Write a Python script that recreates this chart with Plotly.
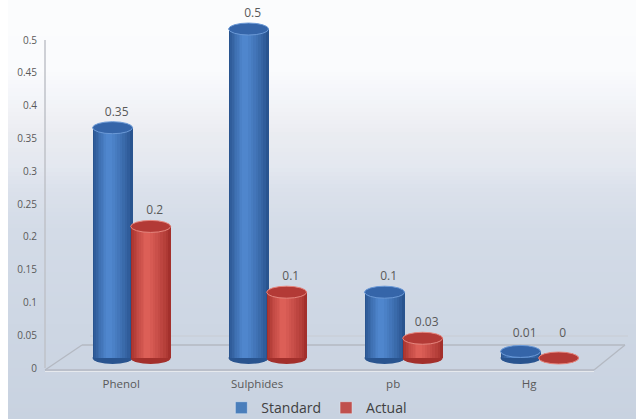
import plotly.graph_objects as go

# Chart data
categories = ["Phenol", "Sulphides", "pb", "Hg"]
standard = [0.35, 0.5, 0.1, 0.01]
actual = [0.2, 0.1, 0.03, 0]
standard_labels = ["0.35", "0.5", "0.1", "0.01"]
actual_labels = ["0.2", "0.1", "0.03", "0"]
y_tick_values = [0, 0.05, 0.1, 0.15, 0.2, 0.25, 0.3, 0.35, 0.4, 0.45, 0.5]
y_tick_labels = ["0", "0.05", "0.1", "0.15", "0.2", "0.25", "0.3", "0.35", "0.4", "0.45", "0.5"]

W, H = 636, 419
ML, MR, MT, MB = 45, 0, 0, 49
PW, PH = W - ML - MR, H - MT - MB

X_RANGE = [-0.640, 3.706]
Y_RANGE = [-0.01824, 0.5441]       # axis the cylinders are drawn on
Y2_RANGE = [-0.0030, 0.5610]      # axis carrying the value labels (back wall)

BAR_W = 0.294
OFFSETS = {"std": -0.29, "act": -0.01}
CAP_H = 12 * (Y_RANGE[1] - Y_RANGE[0]) / PH

TEXT = "#595959"
FONT = "Open Sans"


def hex_rgb(h):
    h = h.lstrip("#")
    return tuple(int(h[i:i + 2], 16) for i in (0, 2, 4))


def mix(c0, c1, t):
    a, b = hex_rgb(c0), hex_rgb(c1)
    return "rgb(%d,%d,%d)" % tuple(round(a[i] + t * (b[i] - a[i])) for i in range(3))


# cylinder shading: edge colour -> highlight colour, layered toward a highlight left of centre
SHADE_ENDS = {"std": ("#29548f", "#4f86cd"), "act": ("#a3302c", "#dc5f57")}
N_LAYERS = 9
HILITE = 0.40
CAP = {"std": ("#3565a9", "#6b99d6"), "act": ("#b33a36", "#e5867e")}
LEGEND_COL = {"std": "#4a7ebb", "act": "#c0504d"}
NAMES = {"std": "Standard", "act": "Actual"}

idx = list(range(len(categories)))
series = {"std": standard, "act": actual}
labels = {"std": standard_labels, "act": actual_labels}

fig = go.Figure()
shapes = []


def px_to_paper(px, py):
    return (px - ML) / PW, (MT + PH - py) / PH


# background: soft vertical gradient
stops = [(0, (251, 252, 253)), (70, (250, 251, 253)), (92, (244, 246, 250)),
         (120, (239, 240, 244)), (135, (234, 236, 241)), (165, (228, 232, 240)),
         (190, (219, 225, 235)), (230, (211, 219, 231)), (419, (200, 210, 224))]


def grad(py):
    for (a, ca), (b, cb) in zip(stops, stops[1:]):
        if a <= py <= b:
            t = (py - a) / (b - a)
            return "rgb(%d,%d,%d)" % tuple(round(ca[i] + t * (cb[i] - ca[i])) for i in range(3))
    return "rgb(%d,%d,%d)" % stops[-1][1]


step = 4
for py in range(0, H, step):
    x0, y0 = px_to_paper(8, py + step + 1.5)
    x1, y1 = px_to_paper(W, py)
    shapes.append(dict(type="rect", xref="paper", yref="paper", x0=x0, x1=x1, y0=y0, y1=y1,
                       fillcolor=grad(py + step / 2), line=dict(width=0), layer="below"))

# floor slab and back-wall edge
floor_col = "#b4b9c2"


def floor_line(p0, p1, color=floor_col, width=1.3):
    a = px_to_paper(*p0)
    b = px_to_paper(*p1)
    shapes.append(dict(type="line", xref="paper", yref="paper", x0=a[0], y0=a[1], x1=b[0], y1=b[1],
                       line=dict(color=color, width=width), layer="below"))


floor_line((45, 370), (594, 370))
floor_line((45, 370), (82, 345))
floor_line((82, 345), (625, 345))
floor_line((594, 370), (625, 345))
floor_line((90, 336), (628, 336), color="#c8ccd3", width=1)
floor_line((45, 371.5), (594, 371.5), color="#e6e9ee", width=1)
shapes.append(dict(type="line", xref="paper", yref="y2", x0=0, x1=0, y0=0, y1=0.5,
                   line=dict(color="#bfc2c8", width=1.5), layer="below"))

# cylinder bottoms (under the bodies)
for key in ("std", "act"):
    for i, v in zip(idx, series[key]):
        left = i + OFFSETS[key]
        shapes.append(dict(type="circle", xref="x", yref="y", x0=left, x1=left + BAR_W,
                           y0=-CAP_H / 2, y1=CAP_H / 2, fillcolor=SHADE_ENDS[key][0],
                           line=dict(width=0), layer="below"))

# cylinder bodies as stacked shading layers
for key in ("std", "act"):
    edge, hi = SHADE_ENDS[key]
    for k in range(N_LAYERS):
        t = k / (N_LAYERS - 1)
        frac = 1.0 - 0.85 * t
        left_frac = HILITE * (1 - frac)
        fig.add_trace(go.Bar(
            x=idx, y=series[key], width=BAR_W * frac, offset=OFFSETS[key] + BAR_W * left_frac,
            marker=dict(color=mix(edge, hi, t ** 0.8), line=dict(width=0)),
            showlegend=False, hoverinfo="skip", yaxis="y"))

# cylinder tops
for key in ("std", "act"):
    fill, rim = CAP[key]
    for i, v in zip(idx, series[key]):
        left = i + OFFSETS[key]
        shapes.append(dict(type="circle", xref="x", yref="y", x0=left, x1=left + BAR_W,
                           y0=v - CAP_H / 2, y1=v + CAP_H / 2, fillcolor=fill,
                           line=dict(color=rim, width=1), layer="above"))

# value labels
for key in ("std", "act"):
    fig.add_trace(go.Scatter(
        x=[i + OFFSETS[key] + BAR_W / 2 + 0.03 for i in idx],
        y=[max(v, 0.013) + 0.023 for v in series[key]],
        text=labels[key], mode="text", textposition="middle center",
        textfont=dict(family=FONT, size=12, color=TEXT),
        showlegend=False, hoverinfo="skip", yaxis="y"))

# legend entries
for key in ("std", "act"):
    fig.add_trace(go.Bar(x=[None], y=[None], name=NAMES[key],
                         marker=dict(color=LEGEND_COL[key]), yaxis="y"))

# carrier for the back-wall value axis
fig.add_trace(go.Scatter(x=[X_RANGE[0]] * len(y_tick_values), y=y_tick_values, mode="markers",
                         marker=dict(opacity=0), showlegend=False, hoverinfo="skip", yaxis="y2"))

fig.update_layout(
    width=W, height=H,
    margin=dict(l=ML, r=MR, t=MT, b=MB, autoexpand=False),
    paper_bgcolor="white", plot_bgcolor="rgba(0,0,0,0)",
    barmode="overlay", bargap=0,
    font=dict(family=FONT, color=TEXT),
    shapes=shapes,
    xaxis=dict(range=X_RANGE, tickvals=[i - 0.08 for i in idx], ticktext=categories,
               showgrid=False, zeroline=False, showline=False, ticks="", ticklabelstandoff=5,
               tickfont=dict(family=FONT, size=11.5, color=TEXT), fixedrange=True),
    yaxis=dict(range=Y_RANGE, visible=False, fixedrange=True),
    yaxis2=dict(range=Y2_RANGE, overlaying="y", side="left", tickvals=y_tick_values,
                ticktext=y_tick_labels, showgrid=False, zeroline=False, showline=False,
                ticks="", ticklabelstandoff=7,
                tickfont=dict(family=FONT, size=10, color=TEXT), fixedrange=True),
    legend=dict(orientation="h", x=0.46, xanchor="center", y=-0.103, yanchor="middle",
                font=dict(family=FONT, size=14, color="#404040"), bgcolor="rgba(0,0,0,0)",
                itemwidth=30, traceorder="normal"),
    showlegend=True,
)

fig.write_html("out.html")
